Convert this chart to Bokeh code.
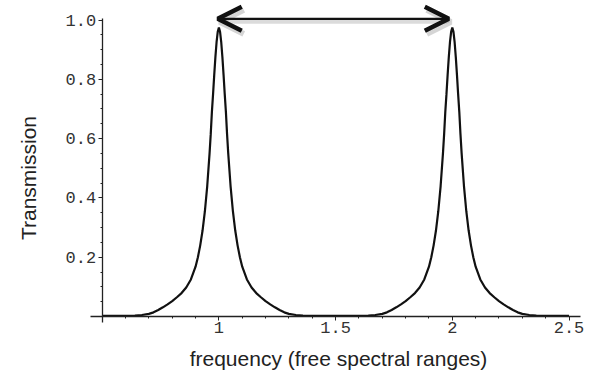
from bokeh.plotting import figure
from bokeh.models import Arrow, OpenHead, FixedTicker, Label
from bokeh.embed import file_html
from bokeh.resources import INLINE

# Transmission of a Fabry-Perot etalon over two free spectral ranges
freq = [
    0.50, 0.55, 0.60, 0.64, 0.67, 0.70, 0.72, 0.74, 0.76, 0.78,
    0.80, 0.82, 0.84, 0.86, 0.88, 0.90, 0.91, 0.92, 0.93, 0.94,
    0.95, 0.96, 0.965, 0.97, 0.975, 0.98, 0.985, 0.99, 0.995, 1.00,
    1.005, 1.01, 1.015, 1.02, 1.025, 1.03, 1.035, 1.04, 1.05, 1.06,
    1.07, 1.08, 1.09, 1.10, 1.12, 1.14, 1.16, 1.18, 1.20, 1.22,
    1.24, 1.26, 1.28, 1.30, 1.33, 1.36, 1.40, 1.45, 1.50,
    1.55, 1.60, 1.64, 1.67, 1.70, 1.72, 1.74, 1.76, 1.78,
    1.80, 1.82, 1.84, 1.86, 1.88, 1.90, 1.91, 1.92, 1.93, 1.94,
    1.95, 1.96, 1.965, 1.97, 1.975, 1.98, 1.985, 1.99, 1.995, 2.00,
    2.005, 2.01, 2.015, 2.02, 2.025, 2.03, 2.035, 2.04, 2.05, 2.06,
    2.07, 2.08, 2.09, 2.10, 2.12, 2.14, 2.16, 2.18, 2.20, 2.22,
    2.24, 2.26, 2.28, 2.30, 2.33, 2.36, 2.40, 2.45, 2.50,
]
transmission = [
    0.002, 0.002, 0.002, 0.003, 0.005, 0.009, 0.014, 0.022, 0.031, 0.041,
    0.052, 0.065, 0.079, 0.098, 0.125, 0.168, 0.200, 0.240, 0.290, 0.355,
    0.440, 0.550, 0.615, 0.690, 0.750, 0.815, 0.875, 0.925, 0.960, 0.975,
    0.960, 0.925, 0.875, 0.815, 0.750, 0.690, 0.615, 0.550, 0.440, 0.355,
    0.290, 0.240, 0.200, 0.168, 0.125, 0.098, 0.079, 0.065, 0.052, 0.041,
    0.031, 0.022, 0.014, 0.009, 0.005, 0.003, 0.002, 0.002, 0.002,
    0.002, 0.002, 0.003, 0.005, 0.009, 0.014, 0.022, 0.031, 0.041,
    0.052, 0.065, 0.079, 0.098, 0.125, 0.168, 0.200, 0.240, 0.290, 0.355,
    0.440, 0.550, 0.615, 0.690, 0.750, 0.815, 0.875, 0.925, 0.960, 0.975,
    0.960, 0.925, 0.875, 0.815, 0.750, 0.690, 0.615, 0.550, 0.440, 0.355,
    0.290, 0.240, 0.200, 0.168, 0.125, 0.098, 0.079, 0.065, 0.052, 0.041,
    0.031, 0.022, 0.014, 0.009, 0.005, 0.003, 0.002, 0.002, 0.002,
]

x_ticks = [1.0, 1.5, 2.0, 2.5]
x_tick_labels = ["1", "1.5", "2", "2.5"]
x_minor = [0.6, 0.7, 0.8, 0.9, 1.1, 1.2, 1.3, 1.4, 1.6, 1.7, 1.8, 1.9,
           2.1, 2.2, 2.3, 2.4]
y_ticks = [0.2, 0.4, 0.6, 0.8, 1.0]
y_tick_labels = ["0.2", "0.4", "0.6", "0.8", "1.0"]
y_minor = [0.05, 0.1, 0.15, 0.25, 0.3, 0.35, 0.45, 0.5, 0.55, 0.65, 0.7,
           0.75, 0.85, 0.9, 0.95]

# one free spectral range, peak to peak
fsr_from = 0.995
fsr_to = 1.985
fsr_level = 1.004

# the frame fills the whole canvas; axes cross at (0.5, 0)
W, H = 592, 373
px_per_x = 233.4
px_per_y = 296.5
origin_px_x = 101.7
origin_px_y = 316.0

x_start = 0.5 - origin_px_x / px_per_x
x_end = 0.5 + (W - origin_px_x) / px_per_x
y_end = origin_px_y / px_per_y
y_start = -(H - origin_px_y) / px_per_y


def data_x(px):
    return 0.5 + (px - origin_px_x) / px_per_x


def data_y(px):
    return (origin_px_y - px) / px_per_y


p = figure(width=W, height=H, output_backend="svg", toolbar_location=None,
           x_range=(x_start, x_end), y_range=(y_start, y_end),
           min_border=0)
p.outline_line_color = None
p.grid.visible = False
p.background_fill_color = "white"
p.border_fill_color = "white"

tick_font = "Liberation Mono"
axis_color = "#222222"

xa = p.xaxis[0]
xa.fixed_location = 0
xa.bounds = (0.45, 2.55)
xa.ticker = FixedTicker(ticks=x_ticks, minor_ticks=x_minor)
xa.major_label_overrides = dict(zip(x_ticks, x_tick_labels))
ya = p.yaxis[0]
ya.fixed_location = 0.5
ya.bounds = (-0.019, 1.006)
ya.ticker = FixedTicker(ticks=y_ticks, minor_ticks=y_minor)
ya.major_label_overrides = dict(zip(y_ticks, y_tick_labels))

# ticks point into the plotting area (up from the x axis, right of the y axis)
for ax in (xa, ya):
    ax.axis_line_color = axis_color
    ax.axis_line_width = 1.3
    ax.major_tick_line_color = axis_color
    ax.minor_tick_line_color = axis_color
    ax.major_tick_in = 0
    ax.major_tick_out = 4
    ax.minor_tick_in = 0
    ax.minor_tick_out = 2
    ax.major_label_text_font = tick_font
    ax.major_label_text_font_size = "17px"
    ax.major_label_text_color = "#333333"
xa.major_label_standoff = 1
ya.major_label_standoff = 2

p.line(freq, transmission, line_color="#111111", line_width=2.2)

# axis titles
title_font = "Liberation Sans"
p.add_layout(Label(x=data_x(338), y=data_y(358),
                   text="frequency (free spectral ranges)",
                   text_font=title_font, text_font_size="21px",
                   text_color="#222222", text_align="center",
                   text_baseline="middle"))
p.add_layout(Label(x=data_x(28), y=data_y(177.5),
                   text="Transmission", angle=90, angle_units="deg",
                   text_font=title_font, text_font_size="21px",
                   text_color="#222222", text_align="center",
                   text_baseline="middle"))

# double arrow marking one free spectral range, with a soft shadow
shadow_dx = 2.0 / px_per_x
shadow_dy = -3.0 / px_per_y
p.add_layout(Arrow(start=OpenHead(size=24, line_width=6, line_color="#888888",
                                  line_alpha=0.35),
                   end=OpenHead(size=24, line_width=6, line_color="#888888",
                                line_alpha=0.35),
                   x_start=fsr_from + shadow_dx, y_start=fsr_level + shadow_dy,
                   x_end=fsr_to + shadow_dx, y_end=fsr_level + shadow_dy,
                   line_width=4, line_color="#888888", line_alpha=0.3))
p.add_layout(Arrow(start=OpenHead(size=24, line_width=4.5, line_color="#111111"),
                   end=OpenHead(size=24, line_width=4.5, line_color="#111111"),
                   x_start=fsr_from, y_start=fsr_level,
                   x_end=fsr_to, y_end=fsr_level,
                   line_width=2.2, line_color="#111111"))

open("out.html", "w").write(file_html(p, INLINE))
